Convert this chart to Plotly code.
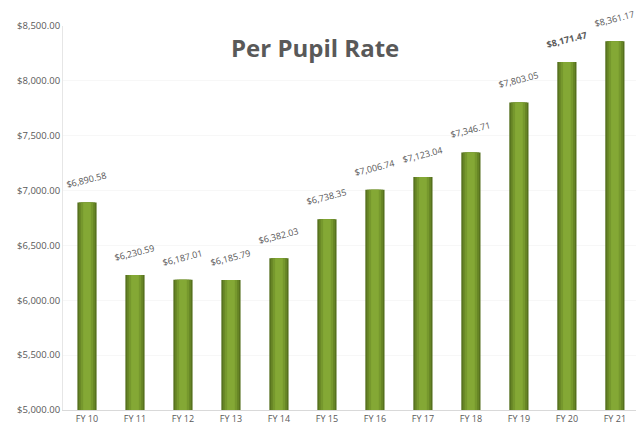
import plotly.graph_objects as go

categories = ["FY 10", "FY 11", "FY 12", "FY 13", "FY 14", "FY 15",
              "FY 16", "FY 17", "FY 18", "FY 19", "FY 20", "FY 21"]
values = [6890.58, 6230.59, 6187.01, 6185.79, 6382.03, 6738.35,
          7006.74, 7123.04, 7346.71, 7803.05, 8171.47, 8361.17]
y_ticks = [5000, 5500, 6000, 6500, 7000, 7500, 8000, 8500]
y_tick_labels = ["${:,.2f}".format(v) for v in y_ticks]

fig = go.Figure()
layers = [(0.40, "#55701e"), (0.34, "#668425"), (0.26, "#76982d"), (0.16, "#84a835")]
for w, c in layers:
    fig.add_trace(go.Bar(x=categories, y=values, width=w, base=0,
                         marker=dict(color=c, line=dict(width=0)),
                         hoverinfo="skip", showlegend=False))

for i, (c, v) in enumerate(zip(categories, values)):
    label = "${:,.2f}".format(v)
    fig.add_annotation(x=c, y=v, text=("<b>%s</b>" % label) if c == "FY 20" else label,
                       showarrow=False, textangle=-14, yanchor="bottom", yshift=9,
                       font=dict(family="Open Sans, Liberation Sans, sans-serif",
                                 size=9, color="#595959"))

fig.add_annotation(text="<b>Per Pupil Rate</b>", xref="paper", yref="paper",
                   x=0.44, y=0.943, yanchor="middle", showarrow=False,
                   font=dict(family="Open Sans, Liberation Sans, sans-serif", size=24, color="#595959"))

fig.update_layout(
    width=636, height=428,
    margin=dict(l=63, r=0, t=26, b=18),
    paper_bgcolor="white", plot_bgcolor="white",
    barmode="overlay",
    xaxis=dict(range=[-0.5, 11.44], showline=True, linecolor="#d9d9d9", linewidth=1,
               showgrid=False, ticks="", tickfont=dict(family="Open Sans, Liberation Sans, sans-serif",
                                                     size=9, color="#595959")),
    yaxis=dict(range=[5000, 8500], tickvals=y_ticks, ticktext=y_tick_labels,
               showgrid=True, gridcolor="#f7f7f7", zeroline=False,
               showline=True, linecolor="#e6e6e6", linewidth=1, ticks="",
               tickfont=dict(family="Open Sans, Liberation Sans, sans-serif", size=9.5, color="#595959")),
)

fig.write_html("out.html")
